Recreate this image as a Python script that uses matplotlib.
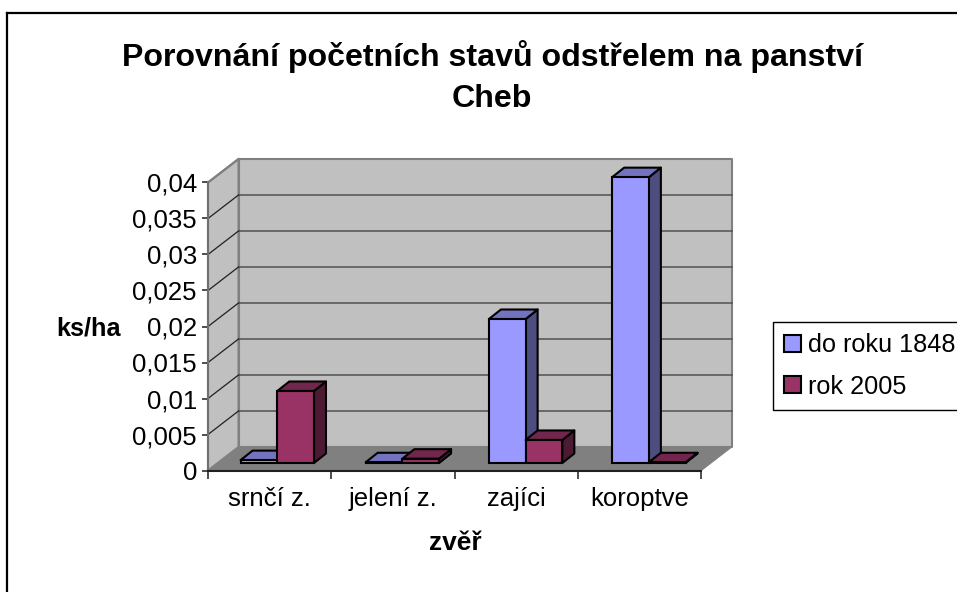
import matplotlib
matplotlib.use("Agg")
import matplotlib.pyplot as plt
from matplotlib.patches import Patch, Polygon
from matplotlib.lines import Line2D

plt.rcParams['font.family'] = ['Liberation Sans', 'DejaVu Sans']

title = "Porovnání početních stavů odstřelem na panství\nCheb"
categories = ["srnčí z.", "jelení z.", "zajíci", "koroptve"]
series_names = ["do roku 1848", "rok 2005"]
do_roku_1848 = [0.0004, 0.0001, 0.0200, 0.0397]
rok_2005 = [0.0100, 0.0006, 0.0032, 0.0001]
yticks = [0, 0.005, 0.01, 0.015, 0.02, 0.025, 0.03, 0.035, 0.04]
ytick_labels = ["0", "0,005", "0,01", "0,015", "0,02", "0,025", "0,03", "0,035", "0,04"]

W, H = 957, 592
fig = plt.figure(figsize=(W / 100, H / 100), dpi=100, facecolor="white")
L, R, T, B = 208, 701, 182.5, 470.5
ax = fig.add_axes([L / W, 1 - B / H, (R - L) / W, (B - T) / H])
ax.set_xlim(0, 4)
ax.set_ylim(0, 0.04)
ax.patch.set_visible(False)

PX = 4 / (R - L)          # category units per pixel
PY = 0.04 / (B - T)       # value units per pixel
wall_dx, wall_dy = 30.5 * PX, 23.5 * PY
bar_dx, bar_dy = 12 * PX, 9.5 * PY
base_dx, base_dy = 9.5 * PX, 7.5 * PY
bar_w = 36.7 * PX

lw_bar = 1.5


def poly(pts, fc, ec="none", lw=1, z=1):
    ax.add_patch(Polygon(pts, closed=True, facecolor=fc, edgecolor=ec, linewidth=lw,
                         zorder=z, clip_on=False, joinstyle="round"))


# walls and floor
poly([(0, 0), (wall_dx, wall_dy), (4 + wall_dx, wall_dy), (4, 0)], "#808080", "#808080", 1, 1)
poly([(0, 0), (wall_dx, wall_dy), (wall_dx, 0.04 + wall_dy), (0, 0.04)], "#C0C0C0", "#808080", 1.5, 1.2)
poly([(wall_dx, wall_dy), (4 + wall_dx, wall_dy), (4 + wall_dx, 0.04 + wall_dy), (wall_dx, 0.04 + wall_dy)],
     "#C0C0C0", "#808080", 1.5, 1.1)

# grid lines on walls
for v in yticks[1:-1]:
    ax.plot([wall_dx, 4 + wall_dx], [v + wall_dy, v + wall_dy], color="#505050", lw=1.1, zorder=1.3, clip_on=False)
    ax.plot([0, wall_dx], [v, v + wall_dy], color="#202020", lw=0.9, zorder=1.3, clip_on=False)
ax.plot([0, wall_dx], [0.04, 0.04 + wall_dy], color="#808080", lw=1.5, zorder=1.3, clip_on=False)


def bar3d(x0, v, front, top, side, z):
    x0 += base_dx
    y0 = base_dy
    x1 = x0 + bar_w
    yt = y0 + v
    poly([(x1, y0), (x1 + bar_dx, y0 + bar_dy), (x1 + bar_dx, yt + bar_dy), (x1, yt)], side, "black", lw_bar, z)
    poly([(x0, yt), (x0 + bar_dx, yt + bar_dy), (x1 + bar_dx, yt + bar_dy), (x1, yt)], top, "black", lw_bar, z)
    ax.bar(x0, v, width=bar_w, bottom=y0, align="edge", color=front, edgecolor="black",
           linewidth=lw_bar, zorder=z + 0.1, clip_on=False)


blue = ("#9999FF", "#7373BF", "#4D4D80")
red = ("#993366", "#73264D", "#4D1A33")
group_centres = [0.485, 1.5, 2.5, 3.5]
for i in range(4):
    c = group_centres[i]
    bar3d(c - bar_w, do_roku_1848[i], *blue, 2 + i)
    bar3d(c, rok_2005[i], *red, 2.5 + i)

# axes
for s in ("top", "right"):
    ax.spines[s].set_visible(False)
ax.spines["left"].set_color("#707070")
ax.spines["left"].set_linewidth(1.5)
ax.spines["left"].set_zorder(10)
ax.spines["bottom"].set_color("#202020")
ax.spines["bottom"].set_linewidth(1.5)
ax.spines["bottom"].set_zorder(10)
ax.set_yticks(yticks)
ax.set_yticklabels(ytick_labels, fontsize=18.5)
ax.set_xticks(range(5))
ax.set_xticklabels([""] * 5)
ax.set_xticks([0.5, 1.5, 2.5, 3.5], categories, minor=True, fontsize=18.5)
ax.tick_params(axis="y", length=4, width=1.2, color="#303030", pad=4)
ax.tick_params(axis="x", which="major", length=6, width=1.2, color="#303030")
ax.tick_params(axis="x", which="minor", length=0, pad=12)

# texts
fig.text(492 / W, 1 - 77 / H, title, fontsize=23.1, fontweight="bold", ha="center", va="center", linespacing=1.5)
fig.text(88.5 / W, 1 - 328 / H, "ks/ha", fontsize=18.2, fontweight="bold", ha="center", va="center")
fig.text(455 / W, 1 - 543 / H, "zvěř", fontsize=19, fontweight="bold", ha="center", va="center")

# legend
handles = [Patch(facecolor=blue[0], edgecolor="black", linewidth=1.5),
           Patch(facecolor=red[0], edgecolor="black", linewidth=1.5)]
leg = fig.legend(handles, series_names, loc="center left", bbox_to_anchor=(773 / W, 1 - 366 / H),
                 fontsize=18.2, frameon=True, fancybox=False, edgecolor="black", framealpha=1,
                 handlelength=0.66, handleheight=0.66, handletextpad=0.27, borderaxespad=0,
                 borderpad=0.45, labelspacing=0.7)
leg.get_frame().set_linewidth(1.0)

# outer chart border
fig.add_artist(Line2D([7 / W, 7 / W], [0, 1 - 13 / H], color="black", lw=1.6))
fig.add_artist(Line2D([7 / W, 1], [1 - 13 / H, 1 - 13 / H], color="black", lw=1.6))

fig.savefig("out.png", dpi=100)
